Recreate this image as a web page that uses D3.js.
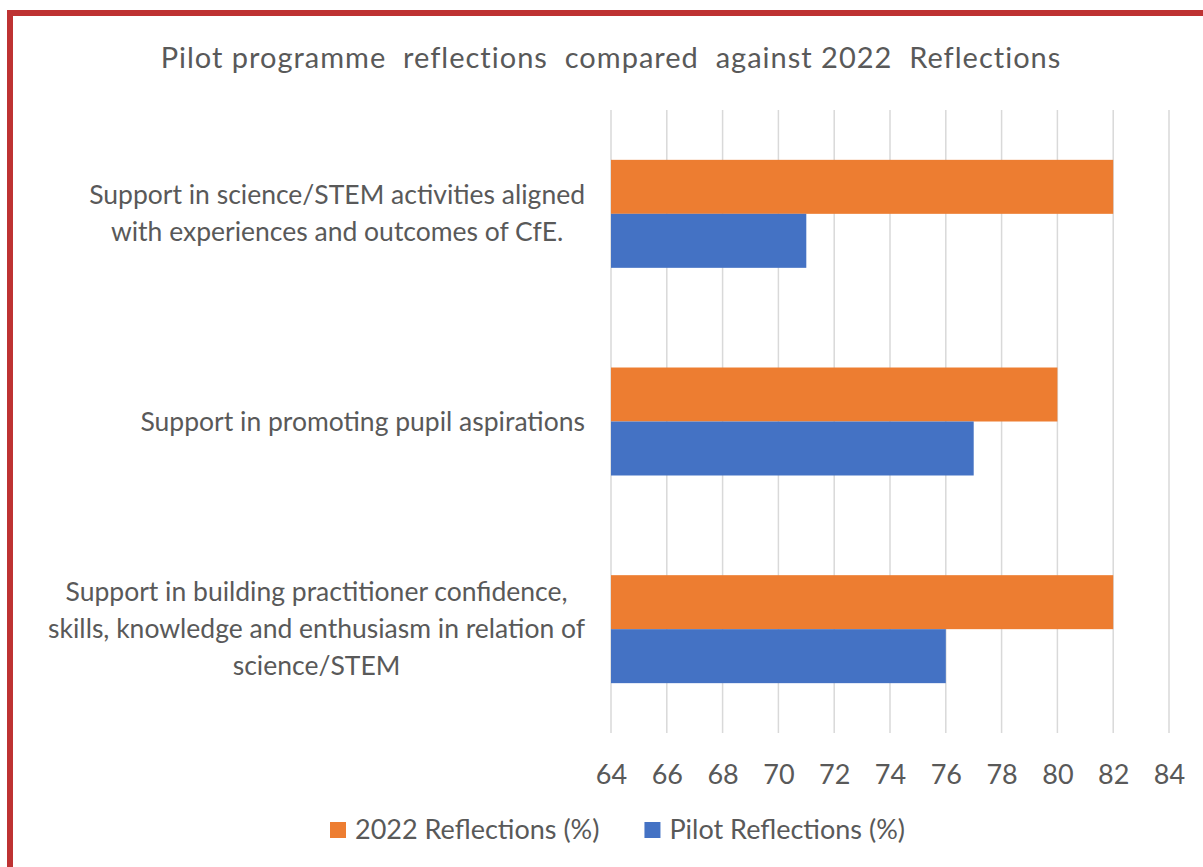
<!DOCTYPE html>
<html>
<head>
<meta charset="utf-8">
<script src="https://cdn.jsdelivr.net/npm/d3@7"></script>
<style>
  body { margin: 0; background: #fff; }
  svg text { font-family: Lato, "Open Sans", sans-serif; fill: #595959; }
</style>
</head>
<body>
<div id="chart"></div>
<script>
// chart data
var categories = [
    ["Support in science/STEM activities aligned", "with experiences and outcomes of CfE."],
    ["Support in promoting pupil aspirations"],
    ["Support in building practitioner confidence,", "skills, knowledge and enthusiasm in relation of", "science/STEM"]
];
var seriesNames = ["2022 Reflections (%)", "Pilot Reflections (%)"];
var values2022 = [82, 80, 82];
var valuesPilot = [71, 77, 76];
var xTicks = [64, 66, 68, 70, 72, 74, 76, 78, 80, 82, 84];
var title = "Pilot programme  reflections  compared  against 2022  Reflections";

var colors = ["#ED7D31", "#4472C4"];

var width = 1203, height = 867;
var plot = { left: 611, right: 1169, top: 110, bottom: 733 };

var svg = d3.select("#chart").append("svg")
    .attr("width", width)
    .attr("height", height);

// red frame (runs off the right and bottom edges)
svg.append("rect")
    .attr("x", 10)
    .attr("y", 13)
    .attr("width", 1300)
    .attr("height", 1000)
    .attr("fill", "none")
    .attr("stroke", "#BE3232")
    .attr("stroke-width", 6);

svg.append("text")
    .attr("x", 611)
    .attr("y", 68)
    .attr("text-anchor", "middle")
    .style("font-size", "29px")
    .style("letter-spacing", "1px")
    .style("white-space", "pre")
    .text(title);

var x = d3.scaleLinear().domain([64, 84]).range([plot.left, plot.right]);
var y = d3.scaleBand()
    .domain(d3.range(categories.length))
    .range([plot.top, plot.bottom])
    .paddingInner(0.48)
    .paddingOuter(0.24);

// gridlines
svg.append("g").selectAll("line")
    .data(xTicks)
    .enter()
    .append("line")
    .attr("x1", function(d) { return x(d); })
    .attr("x2", function(d) { return x(d); })
    .attr("y1", plot.top)
    .attr("y2", plot.bottom)
    .attr("stroke", "#D9D9D9")
    .attr("stroke-width", 1.5);

// tick labels via axis
var xAxis = svg.append("g")
    .attr("transform", "translate(0," + plot.bottom + ")")
    .call(d3.axisBottom(x).tickValues(xTicks).tickSize(0).tickPadding(32));
xAxis.select(".domain").remove();
xAxis.selectAll("text")
    .style("font-size", "27px")
    .attr("fill", "#595959");

var half = y.bandwidth() / 2;
var series = [values2022, valuesPilot];
series.forEach(function(vals, s) {
    svg.append("g").selectAll("rect")
        .data(vals)
        .enter()
        .append("rect")
        .attr("x", x(64))
        .attr("y", function(d, i) { return y(i) + s * half; })
        .attr("width", function(d) { return x(d) - x(64); })
        .attr("height", half)
        .attr("fill", colors[s]);
});

// category labels: lines centred within a block that is right-aligned to the axis
var labelRight = 585, lineH = 37;
categories.forEach(function(lines, i) {
    var g = svg.append("g");
    var texts = g.selectAll("text")
        .data(lines)
        .enter()
        .append("text")
        .style("font-size", "26.5px")
        .attr("text-anchor", "middle")
        .text(function(d) { return d; });
    var maxW = 0;
    texts.each(function() { maxW = Math.max(maxW, this.getComputedTextLength()); });
    var cy = y(i) + y.bandwidth() / 2;
    var y0 = cy - (lines.length - 1) * lineH / 2 + 9;
    texts.attr("x", labelRight - maxW / 2)
        .attr("y", function(d, k) { return y0 + k * lineH; });
});

// legend
var legend = svg.append("g").attr("transform", "translate(330,830)");
var lx = 0;
seriesNames.forEach(function(name, s) {
    legend.append("rect")
        .attr("x", lx)
        .attr("y", -8)
        .attr("width", 16)
        .attr("height", 16)
        .attr("fill", colors[s]);
    var t = legend.append("text")
        .attr("x", lx + 25)
        .attr("y", 9)
        .style("font-size", "27px")
        .text(name);
    lx += 25 + t.node().getComputedTextLength() + 45;
});
</script>
</body>
</html>
